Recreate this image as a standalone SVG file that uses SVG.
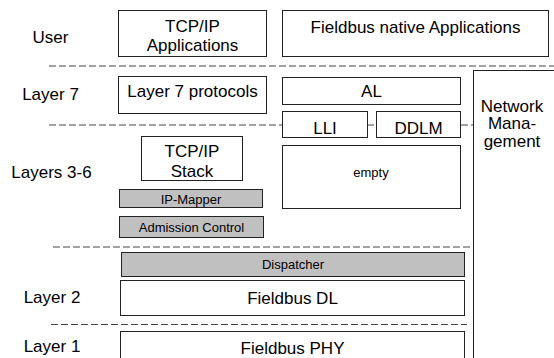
<svg xmlns="http://www.w3.org/2000/svg" width="554" height="358" viewBox="0 0 554 358">
<style>
.bx{fill:#fff;stroke:#222;stroke-width:1}
.gr{fill:#c0c0c0;stroke:#222;stroke-width:1}
.dl{stroke:#444;stroke-width:1;stroke-dasharray:7 3;fill:none}
text{font-family:"Liberation Sans",Arial,sans-serif;fill:#000}
.t{font-size:17px;text-anchor:middle}
.s{font-size:13px;text-anchor:middle}
</style>
<rect width="554" height="358" fill="#fff"/>
<g id="connectors">
<line class="dl" x1="49" y1="66" x2="554" y2="66"/>
<line class="dl" x1="49" y1="125" x2="282" y2="125"/>
<line class="dl" x1="367" y1="125" x2="376" y2="125"/>
<line class="dl" x1="461" y1="125" x2="473" y2="125"/>
<line class="dl" x1="53" y1="247" x2="554" y2="247"/>
<line class="dl" x1="51" y1="324.5" x2="467" y2="324.5"/>
</g>
<g id="labels">
<text class="t" x="50.5" y="43">User</text>
<text class="t" x="50.5" y="100">Layer 7</text>
<text class="t" x="51.5" y="178">Layers 3-6</text>
<text class="t" x="52" y="303">Layer 2</text>
<text class="t" x="52" y="352">Layer 1</text>
</g>
<g id="tcpip-apps">
<rect class="bx" x="118.5" y="10.5" width="148" height="46"/>
<text class="t" x="192.5" y="32">TCP/IP</text>
<text class="t" x="192.5" y="51">Applications</text>
</g>
<g id="fieldbus-apps">
<rect class="bx" x="282.5" y="10.5" width="266" height="46"/>
<text class="t" x="415.5" y="33">Fieldbus native Applications</text>
</g>
<g id="layer7-protocols">
<rect class="bx" x="118.5" y="76.5" width="148" height="37"/>
<text class="t" x="192.5" y="97">Layer 7 protocols</text>
</g>
<g id="al">
<rect class="bx" x="282.5" y="77.5" width="178" height="27"/>
<text class="t" x="371.5" y="97">AL</text>
</g>
<g id="lli">
<rect class="bx" x="282.5" y="111.5" width="85" height="26"/>
<text class="t" x="325" y="134">LLI</text>
</g>
<g id="ddlm">
<rect class="bx" x="376.5" y="111.5" width="84" height="26"/>
<text class="t" x="418.5" y="134">DDLM</text>
</g>
<g id="network-management">
<rect class="bx" x="473.5" y="70.5" width="90" height="300"/>
<text class="t" x="512" y="111.5">Network</text>
<text class="t" x="512" y="129">Mana-</text>
<text class="t" x="512" y="146.5">gement</text>
</g>
<g id="tcpip-stack">
<rect class="bx" x="141.5" y="136.5" width="101" height="44"/>
<text class="t" x="192" y="157">TCP/IP</text>
<text class="t" x="192" y="176.5">Stack</text>
</g>
<g id="empty">
<rect class="bx" x="282.5" y="145.5" width="178" height="63"/>
<text class="s" x="371" y="177">empty</text>
</g>
<g id="ip-mapper">
<rect class="gr" x="119.5" y="189.5" width="143" height="18"/>
<text class="s" x="191" y="204">IP-Mapper</text>
</g>
<g id="admission-control">
<rect class="gr" x="119.5" y="216.5" width="144" height="21"/>
<text class="s" x="191.5" y="231.5">Admission Control</text>
</g>
<g id="dispatcher">
<rect class="gr" x="121.5" y="252.5" width="343" height="24"/>
<text class="s" x="293" y="269">Dispatcher</text>
</g>
<g id="fieldbus-dl">
<rect class="bx" x="120.5" y="280.5" width="344" height="35"/>
<text class="t" x="292.5" y="303.5">Fieldbus DL</text>
</g>
<g id="fieldbus-phy">
<rect class="bx" x="120.5" y="331.5" width="344" height="40"/>
<text class="t" x="292.5" y="354">Fieldbus PHY</text>
</g>
</svg>
